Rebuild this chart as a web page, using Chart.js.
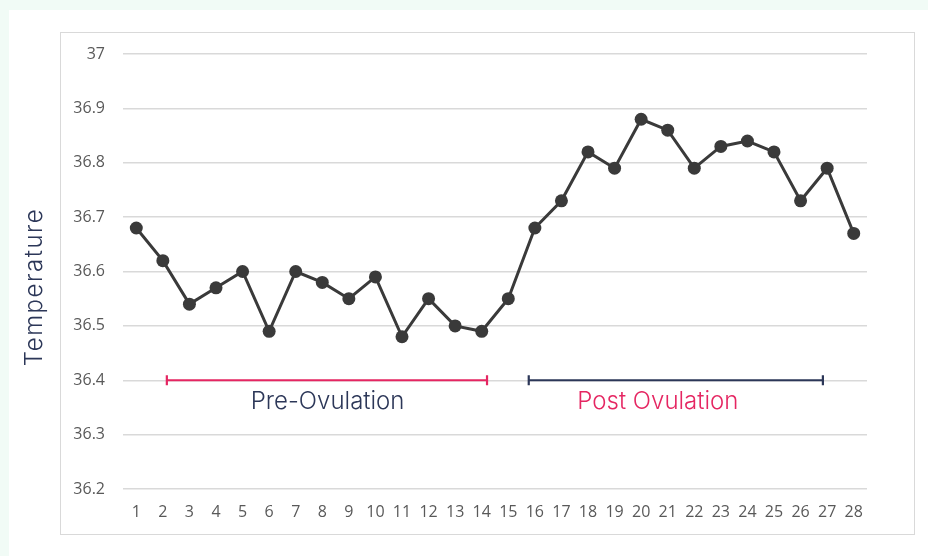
<!DOCTYPE html>
<html>
<head>
<meta charset="utf-8">
<script src="https://cdn.jsdelivr.net/npm/chart.js@4.4.1/dist/chart.umd.min.js"></script>
<style>
    html, body { margin: 0; padding: 0; }
    body { width: 928px; height: 556px; background: #f1fbf6; position: relative; overflow: hidden; }
    .card { position: absolute; left: 9px; top: 10px; right: 0; bottom: 0; background: #fff; }
    .panel { position: absolute; left: 60px; top: 32px; width: 855px; height: 503px; border: 1.5px solid #d9d9d9; box-sizing: border-box; }
    #wrap { position: absolute; left: 0; top: 0; width: 928px; height: 556px; }
</style>
</head>
<body>
<div class="card"></div>
<div class="panel"></div>
<div id="wrap"><canvas id="tempChart" width="928" height="556"></canvas></div>
<script>
const days = ['1', '2', '3', '4', '5', '6', '7', '8', '9', '10', '11', '12', '13', '14',
    '15', '16', '17', '18', '19', '20', '21', '22', '23', '24', '25', '26', '27', '28'];
const temperatures = [36.68, 36.62, 36.54, 36.57, 36.60, 36.49, 36.60, 36.58, 36.55, 36.59,
    36.48, 36.55, 36.50, 36.49, 36.55, 36.68, 36.73, 36.82, 36.79, 36.88, 36.86, 36.79,
    36.83, 36.84, 36.82, 36.73, 36.79, 36.67];
const yTicks = [36.2, 36.3, 36.4, 36.5, 36.6, 36.7, 36.8, 36.9, 37];

// phase brackets: [from, to] as category positions (0-based), label anchor position
const preRange = [1.15, 13.2];
const postRange = [14.77, 25.84];
const preLabelAt = 7.2;
const postLabelAt = 19.63;
const bracketLevel = 36.4;
const phaseLabels = ['Pre-Ovulation', 'Post Ovulation'];

const PINK = '#e52662';
const NAVY = '#2c3758';

const phasePlugin = {
    id: 'phases',
    afterDatasetsDraw(chart) {
        const { ctx, scales: { x, y } } = chart;
        const yy = y.getPixelForValue(bracketLevel);
        const draw = (range, at, lineColor, label, labelColor) => {
            const x1 = x.getPixelForValue(range[0]);
            const x2 = x.getPixelForValue(range[1]);
            ctx.save();
            ctx.strokeStyle = lineColor;
            ctx.lineWidth = 2.2;
            ctx.beginPath();
            ctx.moveTo(x1, yy); ctx.lineTo(x2, yy);
            ctx.moveTo(x1, yy - 5); ctx.lineTo(x1, yy + 5);
            ctx.moveTo(x2, yy - 5); ctx.lineTo(x2, yy + 5);
            ctx.stroke();
            ctx.fillStyle = labelColor;
            ctx.font = '300 24px Inter';
            ctx.textAlign = 'center';
            ctx.textBaseline = 'middle';
            ctx.fillText(label, x.getPixelForValue(at), yy + 22);
            ctx.restore();
        };
        draw(preRange, preLabelAt, PINK, phaseLabels[0], NAVY);
        draw(postRange, postLabelAt, NAVY, phaseLabels[1], PINK);

        // axis title, drawn by hand for letter spacing
        ctx.save();
        ctx.translate(35, 287);
        ctx.rotate(-Math.PI / 2);
        ctx.letterSpacing = '1.5px';
        ctx.fillStyle = NAVY;
        ctx.font = '300 24px Inter';
        ctx.textAlign = 'center';
        ctx.textBaseline = 'middle';
        ctx.fillText('Temperature', 0, 0);
        ctx.restore();
    }
};

new Chart(document.getElementById('tempChart').getContext('2d'), {
    type: 'line',
    data: {
        labels: days,
        datasets: [{
            label: 'Temperature',
            data: temperatures,
            borderColor: '#3a3a3a',
            backgroundColor: '#3a3a3a',
            borderWidth: 3,
            pointRadius: 6.5,
            pointHoverRadius: 6.5,
            pointBorderWidth: 0,
            tension: 0
        }]
    },
    options: {
        responsive: false,
        animation: false,
        layout: { padding: { left: 14, right: 61, top: 54, bottom: 23 } },
        plugins: { legend: { display: false }, tooltip: { enabled: false } },
        scales: {
            x: {
                offset: true,
                grid: { display: false, drawTicks: false },
                border: { display: false },
                ticks: { color: '#595959', font: { family: 'Open Sans', size: 16 }, padding: 14, maxRotation: 0, autoSkip: false },
                afterFit(s) { s.height = 44; }
            },
            y: {
                min: 36.2,
                max: 37,
                afterBuildTicks(s) { s.ticks = yTicks.map((v) => ({ value: v })); },
                grid: { color: '#d9d9d9', lineWidth: 1.5, drawTicks: false },
                border: { display: false },
                ticks: {
                    color: '#595959',
                    font: { family: 'Open Sans', size: 16 },
                    padding: 18,
                    callback: (v) => String(Math.round(v * 10) / 10)
                },
                afterFit(s) { s.width = 109; }
            }
        }
    },
    plugins: [phasePlugin]
});
</script>
</body>
</html>
